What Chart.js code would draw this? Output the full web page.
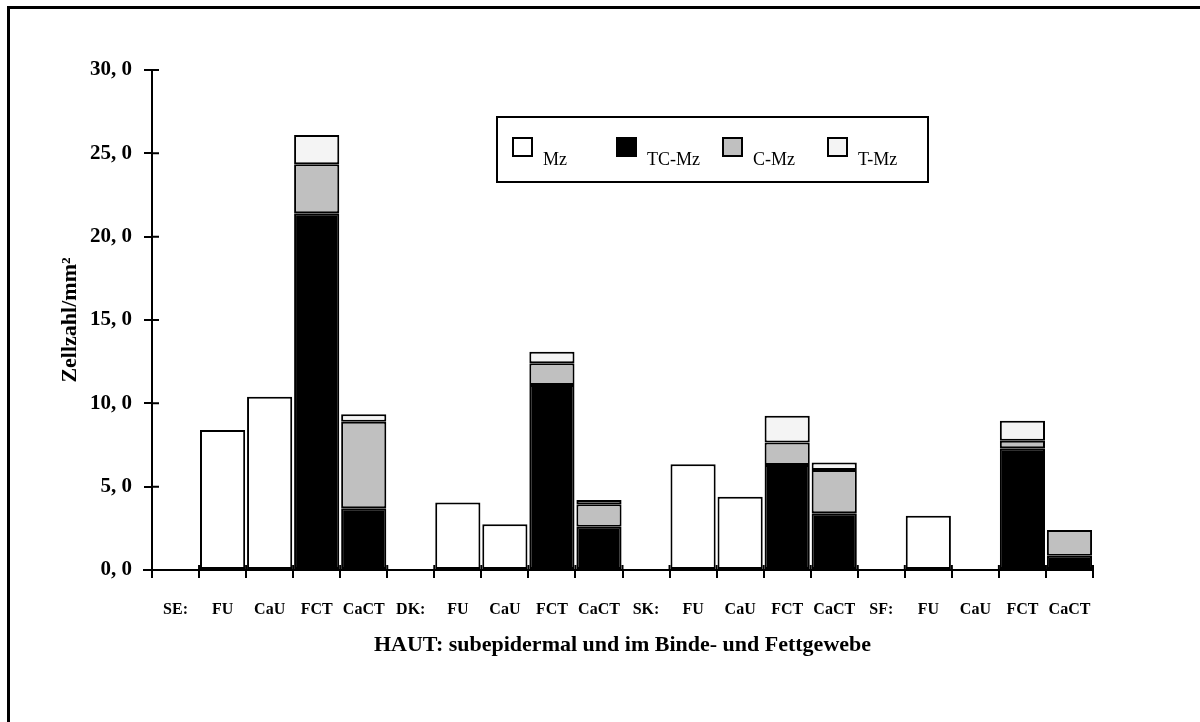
<!DOCTYPE html>
<html>
<head>
<meta charset="utf-8">
<script src="https://cdn.jsdelivr.net/npm/chart.js@4.4.1/dist/chart.umd.min.js"></script>
<style>
  html, body { margin: 0; padding: 0; background: #fff; }
  #wrap { width: 1200px; height: 722px; }
</style>
</head>
<body>
<div id="wrap"><canvas id="haut" width="1200" height="722"></canvas></div>
<script>
// Kategorien (Gruppenkennung + Untergruppen)
const labels = ['SE:', 'FU', 'CaU', 'FCT', 'CaCT', 'DK:', 'FU', 'CaU', 'FCT', 'CaCT',
                'SK:', 'FU', 'CaU', 'FCT', 'CaCT', 'SF:', 'FU', 'CaU', 'FCT', 'CaCT'];

// Zellzahl/mm² je Zelltyp (gestapelt)
const mz   = [null, 8.4, 10.4, null, null, null, 4.05, 2.75, null, null, null, 6.35, 4.4, null, null, null, 3.25, 0, null, null];
const tcMz = [null, null, null, 21.4, 3.7, null, null, null, 11.1, 2.6, null, null, null, 6.3, 3.4, null, null, null, 7.3, 0.85];
const cMz  = [null, null, null, 2.95, 5.2, null, null, null, 1.3, 1.35, null, null, null, 1.35, 2.6, null, null, null, 0.45, 1.55];
const tMz  = [null, null, null, 1.75, 0.45, null, null, null, 0.7, 0.25, null, null, null, 1.6, 0.45, null, null, null, 1.2, 0];

const serif = '"Liberation Serif", "Times New Roman", serif';

// Rahmen, Achsenkreuz-Striche und Legendenkasten
const extras = {
    id: 'extras',
    beforeDraw(chart) {
        const c = chart.ctx;
        c.save();
        c.fillStyle = '#fff';
        c.fillRect(0, 0, chart.width, chart.height);
        c.strokeStyle = '#000';
        c.lineWidth = 3;
        c.beginPath();
        c.moveTo(8.5, chart.height + 5);
        c.lineTo(8.5, 7.5);
        c.lineTo(chart.width + 5, 7.5);
        c.stroke();
        c.restore();
    },
    afterDraw(chart) {
        const c = chart.ctx;
        const y = chart.scales.y;
        const area = chart.chartArea;
        c.save();
        c.strokeStyle = '#000';
        c.lineWidth = 2;
        c.beginPath();
        // x-Achse etwas nach links verlängert
        c.moveTo(area.left - 9, area.bottom);
        c.lineTo(area.left, area.bottom);
        // innere Tick-Stummel
        y.ticks.forEach((t, i) => {
            const py = y.getPixelForTick(i);
            c.moveTo(area.left, py);
            c.lineTo(area.left + 7, py);
        });
        for (let i = 0; i <= labels.length; i++) {
            const px = area.left + (area.right - area.left) * i / labels.length;
            c.moveTo(px, area.bottom);
            c.lineTo(px, area.bottom - 5);
        }
        c.stroke();

        // Legende
        const lx = 497, ly = 117, lw = 431, lh = 65;
        c.lineWidth = 2;
        c.strokeRect(lx, ly, lw, lh);
        const markX = [513, 617, 723, 828];
        c.font = '18px ' + serif;
        c.textBaseline = 'alphabetic';
        chart.data.datasets.forEach((ds, i) => {
            c.fillStyle = ds.backgroundColor;
            c.fillRect(markX[i], 138, 19, 18);
            c.lineWidth = 2;
            c.strokeStyle = '#000';
            c.strokeRect(markX[i], 138, 19, 18);
            c.fillStyle = '#000';
            c.fillText(ds.label, markX[i] + 30, 165);
        });
        c.restore();
    }
};

const barStyle = {
    borderColor: '#000',
    borderWidth: 2,
    borderSkipped: false,
    barPercentage: 1,
    categoryPercentage: 0.96
};

new Chart(document.getElementById('haut'), {
    type: 'bar',
    data: {
        labels: labels,
        datasets: [
            Object.assign({ label: 'Mz', data: mz, backgroundColor: '#ffffff' }, barStyle),
            Object.assign({ label: 'TC-Mz', data: tcMz, backgroundColor: '#000000' }, barStyle),
            Object.assign({ label: 'C-Mz', data: cMz, backgroundColor: '#c0c0c0' }, barStyle),
            Object.assign({ label: 'T-Mz', data: tMz, backgroundColor: '#f4f4f4' }, barStyle)
        ]
    },
    options: {
        responsive: false,
        animation: false,
        layout: { padding: { left: 0, top: 70, right: 107, bottom: 63 } },
        plugins: {
            legend: { display: false },
            tooltip: { enabled: false }
        },
        scales: {
            x: {
                stacked: true,
                afterFit(scale) { scale.height = 89; },
                border: { display: true, color: '#000', width: 2 },
                grid: { offset: true, drawOnChartArea: false, drawTicks: true, tickLength: 8, color: '#000', lineWidth: 2 },
                ticks: { color: '#000', padding: 22, autoSkip: false, maxRotation: 0, font: { family: serif, size: 16, weight: 'bold' } },
                title: {
                    display: true,
                    text: 'HAUT: subepidermal und im Binde- und Fettgewebe',
                    color: '#000',
                    font: { family: serif, size: 22, weight: 'bold' },
                    padding: { top: 0, bottom: 0 }
                }
            },
            y: {
                stacked: true,
                min: 0,
                max: 30,
                afterFit(scale) { scale.width = 152; },
                border: { display: true, color: '#000', width: 2 },
                grid: { drawOnChartArea: false, drawTicks: true, tickLength: 8, color: '#000', lineWidth: 2 },
                ticks: {
                    stepSize: 5,
                    color: '#000',
                    padding: 12,
                    font: { family: serif, size: 21, weight: 'bold' },
                    callback: v => v.toFixed(1).replace('.', ', ')
                },
                title: {
                    display: true,
                    text: 'Zellzahl/mm²',
                    color: '#000',
                    font: { family: serif, size: 22, weight: 'bold' },
                    padding: { top: 57, bottom: 0 }
                }
            }
        }
    },
    plugins: [extras]
});
</script>
</body>
</html>
